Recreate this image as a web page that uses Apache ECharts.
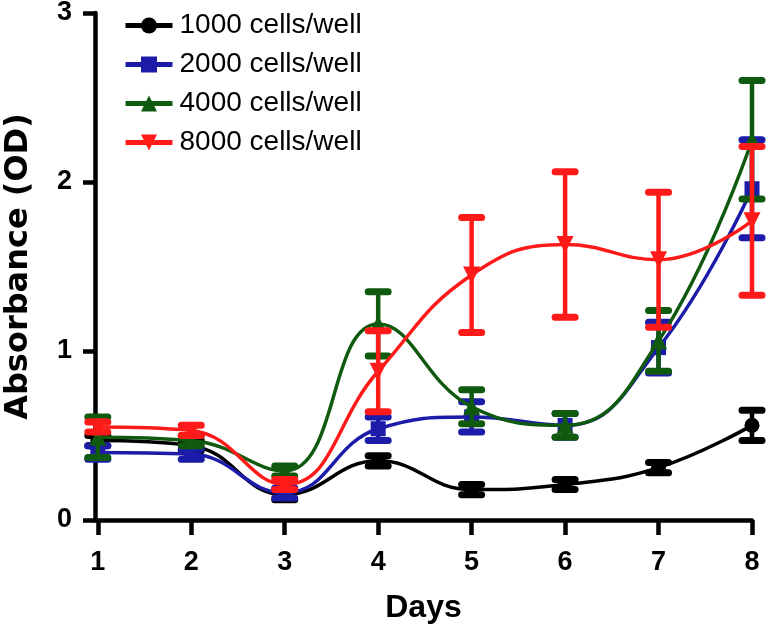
<!DOCTYPE html>
<html>
<head>
<meta charset="utf-8">
<script src="https://cdn.jsdelivr.net/npm/echarts@6/dist/echarts.min.js"></script>
<style>html,body{margin:0;padding:0;background:#fff;}#c{width:767px;height:629px;}</style>
</head>
<body>
<div id="c"></div>
<script>
var days = [1, 2, 3, 4, 5, 6, 7, 8];
var xTickLabels = [1, 2, 3, 4, 5, 6, 7, 8];
var yTickLabels = [0, 1, 2, 3];
var names = ['1000 cells/well', '2000 cells/well', '4000 cells/well', '8000 cells/well'];
var mean1000 = [0.47, 0.44, 0.15, 0.35, 0.18, 0.21, 0.31, 0.56];
var err1000  = [0.03, 0.03, 0.03, 0.03, 0.03, 0.03, 0.03, 0.09];
var mean2000 = [0.40, 0.39, 0.16, 0.54, 0.61, 0.56, 1.02, 1.96];
var err2000  = [0.04, 0.03, 0.03, 0.07, 0.09, 0.07, 0.15, 0.29];
var mean4000 = [0.49, 0.47, 0.29, 1.16, 0.67, 0.56, 1.06, 2.25];
var err4000  = [0.12, 0.03, 0.03, 0.19, 0.10, 0.07, 0.18, 0.35];
var mean8000 = [0.55, 0.53, 0.21, 0.88, 1.45, 1.63, 1.54, 1.77];
var err8000  = [0.03, 0.03, 0.03, 0.24, 0.34, 0.43, 0.40, 0.44];

var colors = ['#000000', '#1c1ca8', '#0f5a0f', '#ff1a1a'];
var symbols = ['circle', 'rect', 'triangle', 'triangle'];
var rotations = [0, 0, 0, 180];
var sizes = [15, 15, 17, 17];
var means = [mean1000, mean2000, mean4000, mean8000];
var errs = [err1000, err2000, err4000, err8000];

function errRender(color) {
  return function (params, api) {
    var x = api.value(0), lo = api.value(1), hi = api.value(2);
    var pHi = api.coord([x, hi]), pLo = api.coord([x, lo]);
    var hw = 10;
    return {
      type: 'group',
      children: [
        {type: 'line', shape: {x1: pHi[0], y1: pHi[1], x2: pLo[0], y2: pLo[1]}, style: {stroke: color, lineWidth: 4.5}},
        {type: 'line', shape: {x1: pHi[0] - hw, y1: pHi[1], x2: pHi[0] + hw, y2: pHi[1]}, style: {stroke: color, lineWidth: 7, lineCap: 'round'}},
        {type: 'line', shape: {x1: pLo[0] - hw, y1: pLo[1], x2: pLo[0] + hw, y2: pLo[1]}, style: {stroke: color, lineWidth: 7, lineCap: 'round'}}
      ]
    };
  };
}

var series = [];
for (var i = 0; i < 4; i++) {
  var lineData = days.map(function (d, k) { return [d, means[i][k]]; });
  var errData = days.map(function (d, k) { return [d, means[i][k] - errs[i][k], means[i][k] + errs[i][k]]; });
  series.push({
    type: 'custom',
    name: names[i] + ' err',
    renderItem: errRender(colors[i]),
    data: errData,
    encode: {x: 0, y: [1, 2]},
    z: 2 + i * 2,
    silent: true
  });
  series.push({
    type: 'line',
    name: names[i],
    data: lineData,
    smooth: 0.45,
    symbol: symbols[i],
    symbolRotate: rotations[i],
    symbolSize: sizes[i],
    showAllSymbol: true,
    lineStyle: {color: colors[i], width: 3.5},
    itemStyle: {color: colors[i]},
    z: 3 + i * 2
  });
}

var chart = echarts.init(document.getElementById('c'), null, {renderer: 'canvas'});
chart.setOption({
  animation: false,
  backgroundColor: '#ffffff',
  grid: {left: 95, right: 15, top: 13, bottom: 109, containLabel: false, outerBoundsMode: 'none'},
  legend: {
    data: names,
    orient: 'vertical',
    left: 118,
    top: 6,
    itemWidth: 47,
    itemHeight: 20,
    itemGap: 10,
    lineStyle: {width: 5},
    textStyle: {fontFamily: 'Liberation Sans, Arial, sans-serif', fontSize: 28, color: '#000', lineHeight: 29, padding: [0, 0, 0, 2]}
  },
  xAxis: {
    type: 'value',
    min: 0.97,
    max: 8,
    name: 'Days',
    nameLocation: 'middle',
    nameGap: 72,
    nameTextStyle: {fontFamily: 'Liberation Sans, Arial, sans-serif', fontWeight: 'bold', fontSize: 32, color: '#000'},
    axisLine: {show: true, lineStyle: {color: '#000', width: 4.5}},
    axisTick: {show: true, length: 15, lineStyle: {color: '#000', width: 4.5}, customValues: xTickLabels},
    axisLabel: {margin: 29, fontFamily: 'Liberation Sans, Arial, sans-serif', fontWeight: 'bold', fontSize: 27, color: '#000', customValues: xTickLabels},
    splitLine: {show: false}
  },
  yAxis: {
    type: 'value',
    min: 0,
    max: 3,
    interval: 1,
    name: 'Absorbance (OD)',
    nameLocation: 'middle',
    nameGap: 60,
    nameRotate: 90,
    nameTextStyle: {fontFamily: 'DejaVu Sans, Liberation Sans, sans-serif', fontWeight: 'bold', fontSize: 32, color: '#000'},
    axisLine: {show: true, lineStyle: {color: '#000', width: 4.5}},
    axisTick: {show: true, length: 12, lineStyle: {color: '#000', width: 4.5}},
    axisLabel: {margin: 23, fontFamily: 'Liberation Sans, Arial, sans-serif', fontWeight: 'bold', fontSize: 27, color: '#000',
      formatter: function (v) { return yTickLabels.indexOf(v) >= 0 ? String(v) : ''; }},
    splitLine: {show: false}
  },
  series: series
});
</script>
</body>
</html>
